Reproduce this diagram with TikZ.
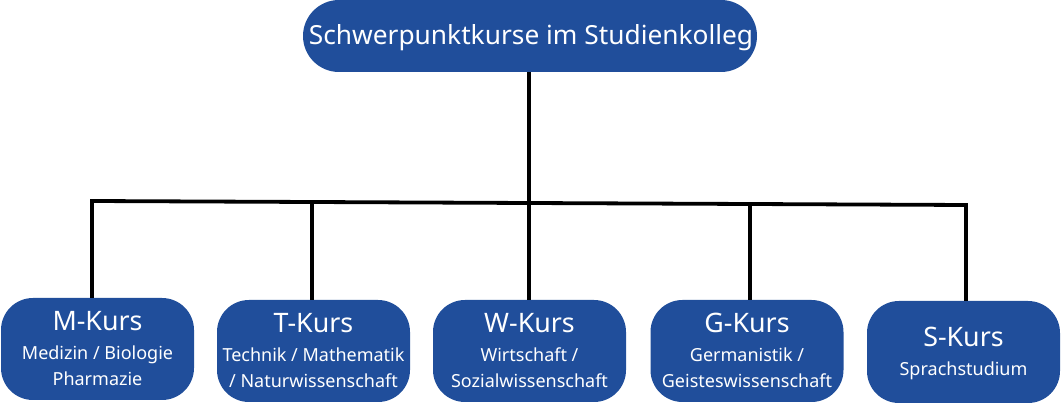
\documentclass[tikz,border=0pt]{standalone}
\usepackage{fontspec}
\setmainfont{Noto Sans}
\definecolor{kblue}{RGB}{32,78,155}
\tikzset{
  box/.style={rounded corners=32pt, fill=kblue, inner sep=0pt, minimum width=193pt, minimum height=102pt},
  ttl/.style={text=white, anchor=base, inner sep=0pt, font=\fontsize{26.8}{30}\selectfont},
  sub/.style={text=white, anchor=base, inner sep=0pt, font=\fontsize{18}{26}\selectfont},
  conn/.style={line width=3.8pt, draw=black}
}
\begin{document}
\begin{tikzpicture}[x=1pt,y=-1pt]
\useasboundingbox (0,0) rectangle (1061,403);
% top
\node[box, minimum width=454pt, minimum height=72pt, rounded corners=36pt] (top) at (530,36) {};
\node[ttl, font=\fontsize{26.3}{30}\selectfont] (topt) at (531,45) {Schwerpunktkurse im Studienkolleg};
% boxes
\node[box] (M) at (97.5,349) {};
\node[box] (T) at (313.5,351) {};
\node[box] (W) at (529.5,351) {};
\node[box] (G) at (747,351) {};
\node[box] (S) at (963.5,352) {};
% connectors
\coordinate (jM) at (92,201);
\coordinate (jT) at (312,202);
\coordinate (jW) at (529,203);
\coordinate (jG) at (750,204);
\coordinate (jS) at (966,205);
\draw[conn] (top.south -| jW) -- (jW);
\draw[conn, line cap=rect] (jM) -- (jT) -- (jW) -- (jG) -- (jS);
\draw[conn] (jM) -- (jM |- M.north);
\draw[conn] (jT) -- (jT |- T.north);
\draw[conn] (jW) -- (jW |- W.north);
\draw[conn] (jG) -- (jG |- G.north);
\draw[conn] (jS) -- (jS |- S.north);
% texts
\node[ttl] (Mt) at (97.5,331) {M-Kurs};
\node[sub] (Ms1) at (97.5,360) {Medizin / Biologie};
\node[sub] (Ms2) at (97.5,386) {Pharmazie};
\node[ttl] (Tt) at (313.5,333) {T-Kurs};
\node[sub] (Ts1) at (313.5,362) {Technik / Mathematik};
\node[sub] (Ts2) at (313.5,388) {/ Naturwissenschaft};
\node[ttl] (Wt) at (529.5,333) {W-Kurs};
\node[sub] (Ws1) at (529.5,362) {Wirtschaft /};
\node[sub] (Ws2) at (529.5,388) {Sozialwissenschaft};
\node[ttl] (Gt) at (747,333) {G-Kurs};
\node[sub] (Gs1) at (747,362) {Germanistik /};
\node[sub] (Gs2) at (747,388) {Geisteswissenschaft};
\node[ttl] (St) at (963.5,347) {S-Kurs};
\node[sub] (Ss1) at (963.5,376) {Sprachstudium};
\end{tikzpicture}
\end{document}
